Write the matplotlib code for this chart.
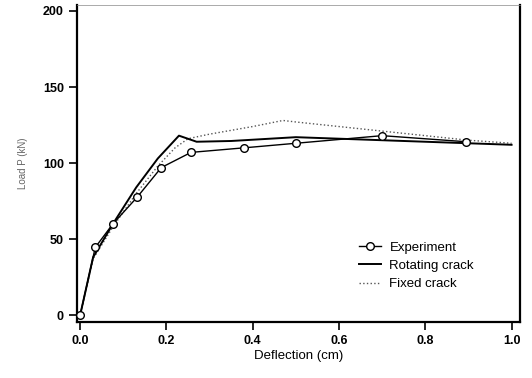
import numpy as np
import matplotlib.pyplot as plt

# load-deflection data (deflection in cm, load in kN)
exp_d = [0.0, 0.035, 0.076, 0.132, 0.188, 0.257, 0.38, 0.50, 0.70, 0.895]
exp_p = [0.0, 44.5, 60.0, 77.5, 97.0, 107.0, 110.0, 113.0, 118.0, 114.0]

rot_d = [0.0, 0.03, 0.076, 0.13, 0.18, 0.229, 0.27, 0.35, 0.5, 0.6, 0.7, 0.8, 0.9, 1.0]
rot_p = [0.0, 38.0, 60.0, 84.0, 103.0, 118.0, 114.0, 114.5, 117.0, 116.0, 115.0, 114.0, 113.0, 112.0]

fix_d = [0.0, 0.03, 0.076, 0.13, 0.18, 0.22, 0.25, 0.3, 0.4, 0.47, 0.5, 0.6, 0.7, 0.8, 0.9, 1.0]
fix_p = [0.0, 37.0, 58.0, 80.0, 98.0, 110.0, 116.0, 119.0, 124.0, 128.0, 127.0, 124.0, 121.0, 118.0, 115.0, 113.0]

xticks = [0.0, 0.2, 0.4, 0.6, 0.8, 1.0]
yticks = [0, 50, 100, 150, 200]

plt.rcParams['font.family'] = ['Liberation Sans', 'DejaVu Sans']
fig = plt.figure(figsize=(5.32, 3.78), dpi=100)
ax = fig.add_axes([0.145, 0.148, 0.832, 0.839])

ax.plot(exp_d, exp_p, '-', color='black', lw=1.0, marker='o', ms=5.5,
        mfc='white', mec='black', mew=1.0, label='Experiment', zorder=4)
ax.plot(rot_d, rot_p, '-', color='black', lw=1.4, label='Rotating crack', zorder=3)
ax.plot(fix_d, fix_p, ':', color='#555555', lw=1.0, label='Fixed crack', zorder=2)

ax.set_xlim(-0.007, 1.019)
ax.set_ylim(-4.6, 204)
ax.set_xticks(xticks)
ax.set_yticks(yticks)
ax.set_xticklabels(['0.0', '0.2', '0.4', '0.6', '0.8', '1.0'], fontweight='bold')
ax.set_yticklabels([str(v) for v in yticks], fontweight='bold')
ax.tick_params(direction='out', length=6, width=1.2, labelsize=9)

for s in ['left', 'bottom', 'right']:
    ax.spines[s].set_linewidth(1.6)
ax.spines['top'].set_linewidth(0.5)
ax.spines['top'].set_color('#888888')

ax.set_xlabel('Deflection (cm)', fontsize=9.5, labelpad=2)
ax.set_ylabel('Load P (kN)', fontsize=7, color='#666666', labelpad=11)

leg = ax.legend(loc='upper left', bbox_to_anchor=(0.625, 0.27), frameon=False,
                fontsize=9.5, handlelength=1.7, handletextpad=0.6, labelspacing=0.45,
                borderaxespad=0)

fig.savefig('out.png', dpi=100)
